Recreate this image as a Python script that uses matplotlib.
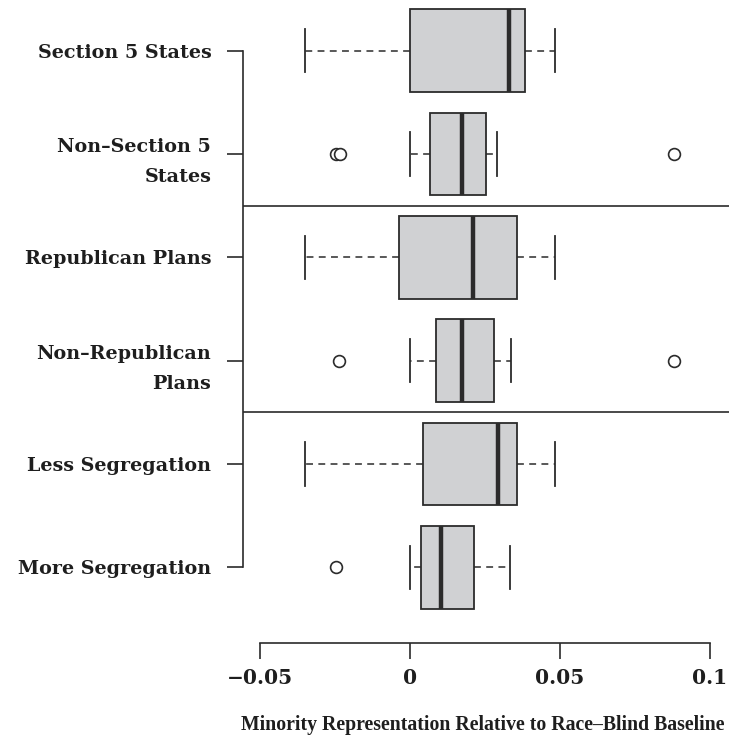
import matplotlib
matplotlib.use("Agg")
import matplotlib.pyplot as plt

# ---- data ----
categories = ["Section 5 States", "Non\u2013Section 5\nStates", "Republican Plans",
              "Non\u2013Republican\nPlans", "Less Segregation", "More Segregation"]
whis_low = [-0.0349, 0.0001, -0.0349, 0.0001, -0.0349, 0.0001]
q1 = [0.0001, 0.0068, -0.0038, 0.0088, 0.0042, 0.0037]
medians = [0.0329, 0.0173, 0.0209, 0.0173, 0.0292, 0.0102]
q3 = [0.0384, 0.0253, 0.0358, 0.0281, 0.0358, 0.0214]
whis_high = [0.0483, 0.0290, 0.0483, 0.0336, 0.0483, 0.0333]
outliers = [[], [-0.0247, -0.0233, 0.0880], [], [-0.0236, 0.0880], [], [-0.0247]]
x_ticks = [-0.05, 0.0, 0.05, 0.1]
x_tick_labels = ["\u22120.05", "0", "0.05", "0.1"]
x_label = "Minority Representation Relative to Race\u2013Blind Baseline"

W, H = 729, 736
fig = plt.figure(figsize=(W / 100, H / 100), dpi=100)
ax = fig.add_axes([242.6 / W, 1 - 643.3 / H, 1 - 242.6 / W, 643.3 / H])

n = len(categories)
positions = list(range(n, 0, -1))
stats = []
for i in range(n):
    stats.append(dict(med=medians[i], q1=q1[i], q3=q3[i], whislo=whis_low[i],
                      whishi=whis_high[i], fliers=outliers[i]))

dark = "#2b2b2b"
ax.bxp(stats, positions=positions, vert=False, widths=0.8, patch_artist=True,
       showfliers=True, capwidths=0.42,
       boxprops=dict(facecolor="#d0d1d3", edgecolor=dark, linewidth=1.3),
       medianprops=dict(color=dark, linewidth=3.2, solid_capstyle="butt"),
       whiskerprops=dict(color=dark, linewidth=1.1, linestyle=(0, (4.5, 3.5))),
       capprops=dict(color=dark, linewidth=1.3),
       flierprops=dict(marker="o", markerfacecolor="white", markeredgecolor=dark,
                       markersize=8.5, markeredgewidth=1.2, linestyle="none"))

for yy in (4.5, 2.5):
    ax.axhline(yy, color=dark, linewidth=1.2)

ax.set_xlim((242.6 - 410) / 3000, (729 - 410) / 3000)
ax.set_ylim(1 - (643.3 - 567.3) / 103.3, 6 + 50.7 / 103.3)

for s in ("top", "right"):
    ax.spines[s].set_visible(False)
ax.spines["left"].set_bounds(1, 6)
ax.spines["bottom"].set_bounds(-0.05, 0.1)
for s in ("left", "bottom"):
    ax.spines[s].set_color(dark)
    ax.spines[s].set_linewidth(1.2)

ax.set_yticks(positions)
ax.set_yticklabels(categories, fontfamily="DejaVu Serif", fontweight="bold",
                   fontsize=13.8, color="#1e1e1e", linespacing=1.85)
ax.set_xticks(x_ticks)
ax.set_xticklabels(x_tick_labels, fontfamily="DejaVu Serif", fontweight="bold",
                   fontsize=14.5, color="#1e1e1e")
ax.tick_params(axis="both", length=11.5, width=1.2, color=dark)
ax.tick_params(axis="y", pad=11)
ax.tick_params(axis="x", pad=6)

fig.text(483 / W, 1 - 730 / H, x_label, ha="center", va="baseline",
         fontfamily="Liberation Serif", fontweight="bold", fontsize=14.2,
         color="#1e1e1e")

fig.savefig("out.png", dpi=100)
